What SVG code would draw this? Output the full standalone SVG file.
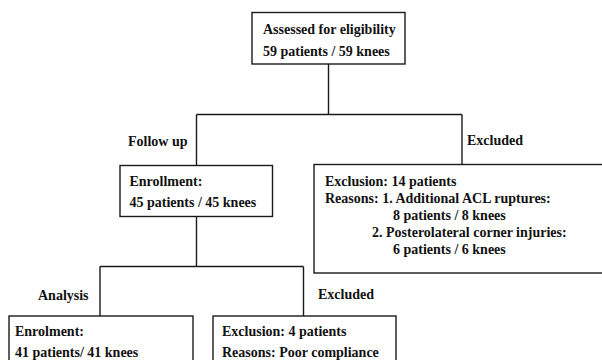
<svg xmlns="http://www.w3.org/2000/svg" width="602" height="360" viewBox="0 0 602 360">
<style>
.box{fill:#fff;stroke:#1a1a1a;stroke-width:1.4}
.ln{fill:none;stroke:#1a1a1a;stroke-width:1.4}
text{font-family:"Liberation Serif","Times New Roman",serif;font-weight:bold;font-size:14px;fill:#111}
</style>
<rect width="602" height="360" fill="#fff"/>
<g id="connectors">
<path class="ln" d="M328.5,64 V114.5 M196.5,114.5 H462 M196.5,114.5 V165.5 M462,114.5 V164.5"/>
<path class="ln" d="M196.5,216.5 V266.5 M100,266.5 H303.5 M100,266.5 V316 M303.5,266.5 V316"/>
</g>
<g id="labels">
<text x="128" y="146">Follow up</text>
<text x="467" y="145">Excluded</text>
<text x="38" y="300">Analysis</text>
<text x="318" y="299">Excluded</text>
</g>
<g id="assessed">
<rect class="box" x="252" y="12.5" width="153" height="51.5"/>
<text x="263" y="33.5">Assessed for eligibility</text>
<text x="263" y="55.5">59 patients / 59 knees</text>
</g>
<g id="enrollment">
<rect class="box" x="120" y="165.5" width="152.5" height="51"/>
<text x="129.5" y="186">Enrollment:</text>
<text x="129.5" y="206.5">45 patients / 45 knees</text>
</g>
<g id="excluded1">
<rect class="box" x="314" y="164.5" width="290" height="108.5"/>
<text x="325" y="185.5">Exclusion: 14 patients</text>
<text x="325" y="202.5">Reasons: 1. Additional ACL ruptures:</text>
<text x="393" y="219.5">8 patients / 8 knees</text>
<text x="372" y="236.5">2. Posterolateral corner injuries:</text>
<text x="393" y="253.5">6 patients / 6 knees</text>
</g>
<g id="analysis">
<rect class="box" x="9" y="316" width="184" height="60"/>
<text x="15" y="335.5">Enrolment:</text>
<text x="15" y="357">41 patients/ 41 knees</text>
</g>
<g id="excluded2">
<rect class="box" x="213" y="316" width="183" height="60"/>
<text x="222" y="335.5">Exclusion: 4 patients</text>
<text x="222" y="357">Reasons: Poor compliance</text>
</g>
</svg>
